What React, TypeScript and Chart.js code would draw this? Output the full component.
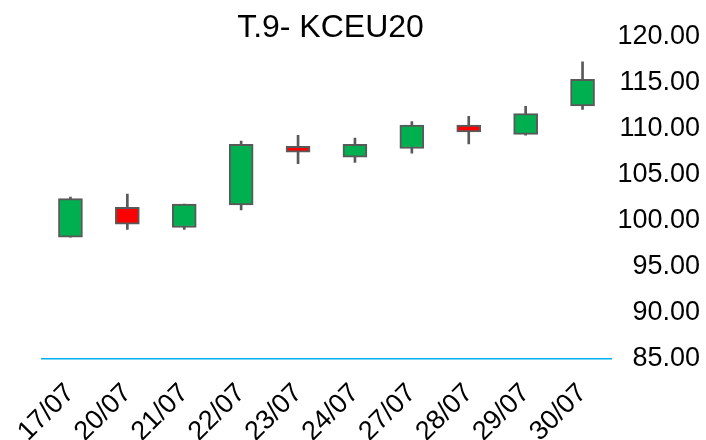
import React, { useEffect, useRef } from "react";
import { Chart, registerables } from "chart.js";

Chart.register(...registerables);

const categories = ["17/07", "20/07", "21/07", "22/07", "23/07", "24/07", "27/07", "28/07", "29/07", "30/07"];
const openValues = [98.2, 101.45, 99.25, 101.7, 108.1, 106.9, 107.85, 110.4, 109.4, 112.5];
const closeValues = [102.4, 99.6, 101.8, 108.3, 107.45, 108.3, 110.4, 109.65, 111.65, 115.4];
const highValues = [102.55, 102.9, 101.8, 108.65, 109.3, 109.0, 110.8, 111.35, 112.45, 117.3];
const lowValues = [98.2, 99.05, 99.05, 101.15, 106.2, 106.35, 107.35, 108.35, 109.3, 112.1];
const yTicks = [85, 90, 95, 100, 105, 110, 115, 120];
const titleText = "T.9- KCEU20";

const FONT = "'Liberation Sans', Arial, sans-serif";
const UP = "#00B050";
const DOWN = "#FF0000";
const EDGE = "#595959";

const titlePlugin = {
  id: "centerTitle",
  afterDraw(chart: any) {
    const { ctx, chartArea } = chart;
    ctx.save();
    ctx.font = `32px ${FONT}`;
    ctx.fillStyle = "#000000";
    ctx.textAlign = "center";
    ctx.textBaseline = "alphabetic";
    ctx.fillText(titleText, (chartArea.left + chartArea.right) / 2 + 4, 37);
    ctx.restore();
  },
};

export default function App() {
  const ref = useRef<HTMLCanvasElement | null>(null);

  useEffect(() => {
    if (!ref.current) return;
    const chart = new Chart(ref.current, {
      type: "bar",
      data: {
        labels: categories,
        datasets: [
          {
            label: "wick",
            data: categories.map((_, i) => [lowValues[i], highValues[i]]) as any,
            backgroundColor: EDGE,
            borderWidth: 0,
            barThickness: 2,
            grouped: false,
            order: 2,
          },
          {
            label: "body",
            data: categories.map((_, i) => [openValues[i], closeValues[i]]) as any,
            backgroundColor: categories.map((_, i) => (closeValues[i] >= openValues[i] ? UP : DOWN)),
            borderColor: EDGE,
            borderWidth: 2,
            borderSkipped: false,
            barThickness: 24,
            grouped: false,
            order: 1,
          },
        ],
      },
      options: {
        responsive: false,
        animation: false,
        layout: { padding: { top: 37, left: 42, right: 6, bottom: 0 } },
        plugins: {
          legend: { display: false },
          title: { display: false },
          tooltip: { enabled: false },
        },
        scales: {
          x: {
            grid: { display: false, drawTicks: false },
            border: { display: true, color: "#00B0F0", width: 1.5 },
            ticks: {
              minRotation: 45,
              maxRotation: 45,
              color: "#000000",
              font: { family: FONT, size: 27 },
              padding: 19,
              autoSkip: false,
            },
            afterFit: (scale: any) => {
              scale.height = 81.7;
              scale.paddingLeft = 0;
              scale.paddingRight = 0;
            },
          },
          y: {
            position: "right",
            min: 85,
            max: 120,
            grid: { display: false, drawTicks: false },
            border: { display: false },
            afterBuildTicks: (scale: any) => {
              scale.ticks = yTicks.map((v) => ({ value: v }));
            },
            ticks: {
              crossAlign: "far",
              padding: 1,
              color: "#000000",
              font: { family: FONT, size: 27 },
              callback: (v: any) => Number(v).toFixed(2),
            },
            afterFit: (scale: any) => {
              scale.width = 89;
            },
          },
        },
      },
      plugins: [titlePlugin],
    });
    return () => chart.destroy();
  }, []);

  return (
    <div style={{ position: "fixed", left: 0, top: 0, width: 706, height: 440, background: "#ffffff" }}>
      <canvas ref={ref} width={706} height={440} style={{ display: "block" }} />
    </div>
  );
}
